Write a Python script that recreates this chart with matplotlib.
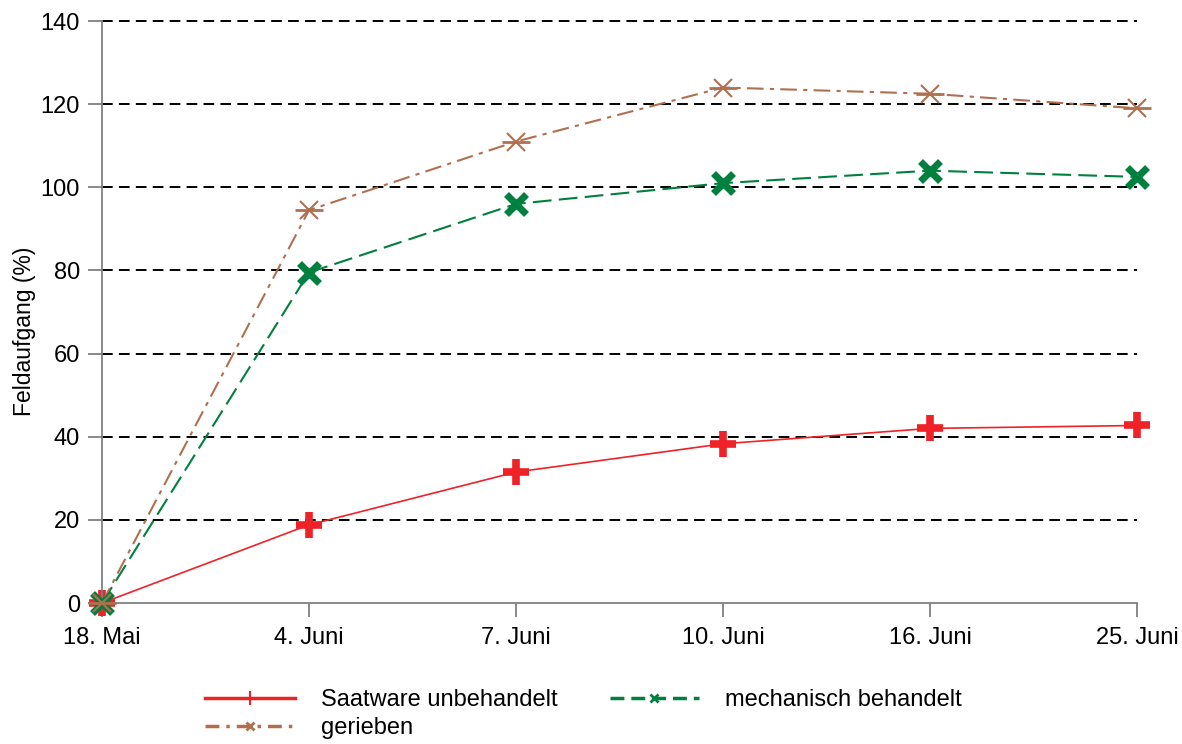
import matplotlib.pyplot as plt
from matplotlib.lines import Line2D

plt.rcParams['font.family'] = ['Liberation Sans', 'DejaVu Sans']

dates = ["18. Mai", "4. Juni", "7. Juni", "10. Juni", "16. Juni", "25. Juni"]
unbehandelt = [0, 18.8, 31.5, 38.3, 42.0, 42.7]
mechanisch = [0, 79.5, 96.0, 101.0, 104.0, 102.5]
gerieben = [0, 94.5, 111.0, 124.0, 122.5, 119.0]

red = "#ee2227"
green = "#00803e"
brown = "#b07050"

fig = plt.figure(figsize=(11.82, 7.44), dpi=100)
ax = fig.add_axes([102 / 1182, 1 - 603 / 744, 1035 / 1182, 582 / 744])

x = list(range(len(dates)))

# horizontal dashed grid
for v in range(20, 141, 20):
    ax.axhline(v, color="black", lw=1.4, ls=(0, (5.5, 3.2)), zorder=1, clip_on=False)

ax.plot(x, unbehandelt, color=red, lw=1.2, zorder=3, clip_on=False)
ax.plot(x, unbehandelt, color=red, ls="none", marker="+", ms=19, mew=5.5, zorder=2, clip_on=False)

ax.plot(x, mechanisch, color=green, lw=1.5, ls=(0, (9, 3.5)), zorder=3, clip_on=False)
ax.plot(x, mechanisch, color=green, ls="none", marker="x", ms=15, mew=5, zorder=4, clip_on=False)

ax.plot(x, gerieben, color=brown, lw=1.5, ls=(0, (8, 3, 2, 3)), zorder=3, clip_on=False)
ax.plot(x, gerieben, color=brown, ls="none", marker="x", ms=13, mew=1.5, zorder=5, clip_on=False)
ax.plot(x, gerieben, color=brown, ls="none", marker="_", ms=20, mew=2, zorder=5, clip_on=False)

ax.set_xlim(0, 5)
ax.set_ylim(0, 140)
ax.set_xticks(x)
ax.set_xticklabels(dates)
ax.set_yticks(range(0, 141, 20))
for s in ["top", "right"]:
    ax.spines[s].set_visible(False)
for s in ["left", "bottom"]:
    ax.spines[s].set_color("#808080")
    ax.spines[s].set_linewidth(1.3)
ax.tick_params(axis="both", colors="#808080", labelcolor="black", labelsize=17,
               length=10, width=1.3, direction="out")
ax.tick_params(axis="x", pad=7)
ax.tick_params(axis="y", pad=6)
ax.set_ylabel("Feldaufgang (%)", fontsize=16.5)
ax.yaxis.set_label_coords(-0.0635, 0.466)

handles = [
    Line2D([], [], color=red, lw=2.5, marker="|", ms=10, mew=1.5),
    Line2D([], [], color=brown, lw=2.5, ls=(0, (4, 2, 1, 2)), marker="x", ms=6, mew=2),
    Line2D([], [], color=green, lw=2.5, ls=(0, (4, 2)), marker="x", ms=6, mew=2),
]
labels = ["Saatware unbehandelt", "gerieben", "mechanisch behandelt"]
fig.legend(handles, labels, loc="upper left", bbox_to_anchor=(184 / 1182, 1 - 668 / 744),
           ncol=2, frameon=False, fontsize=17, handlelength=3.8, handletextpad=1.1,
           columnspacing=2.2, labelspacing=0.25)

fig.savefig("out.png", dpi=100)
